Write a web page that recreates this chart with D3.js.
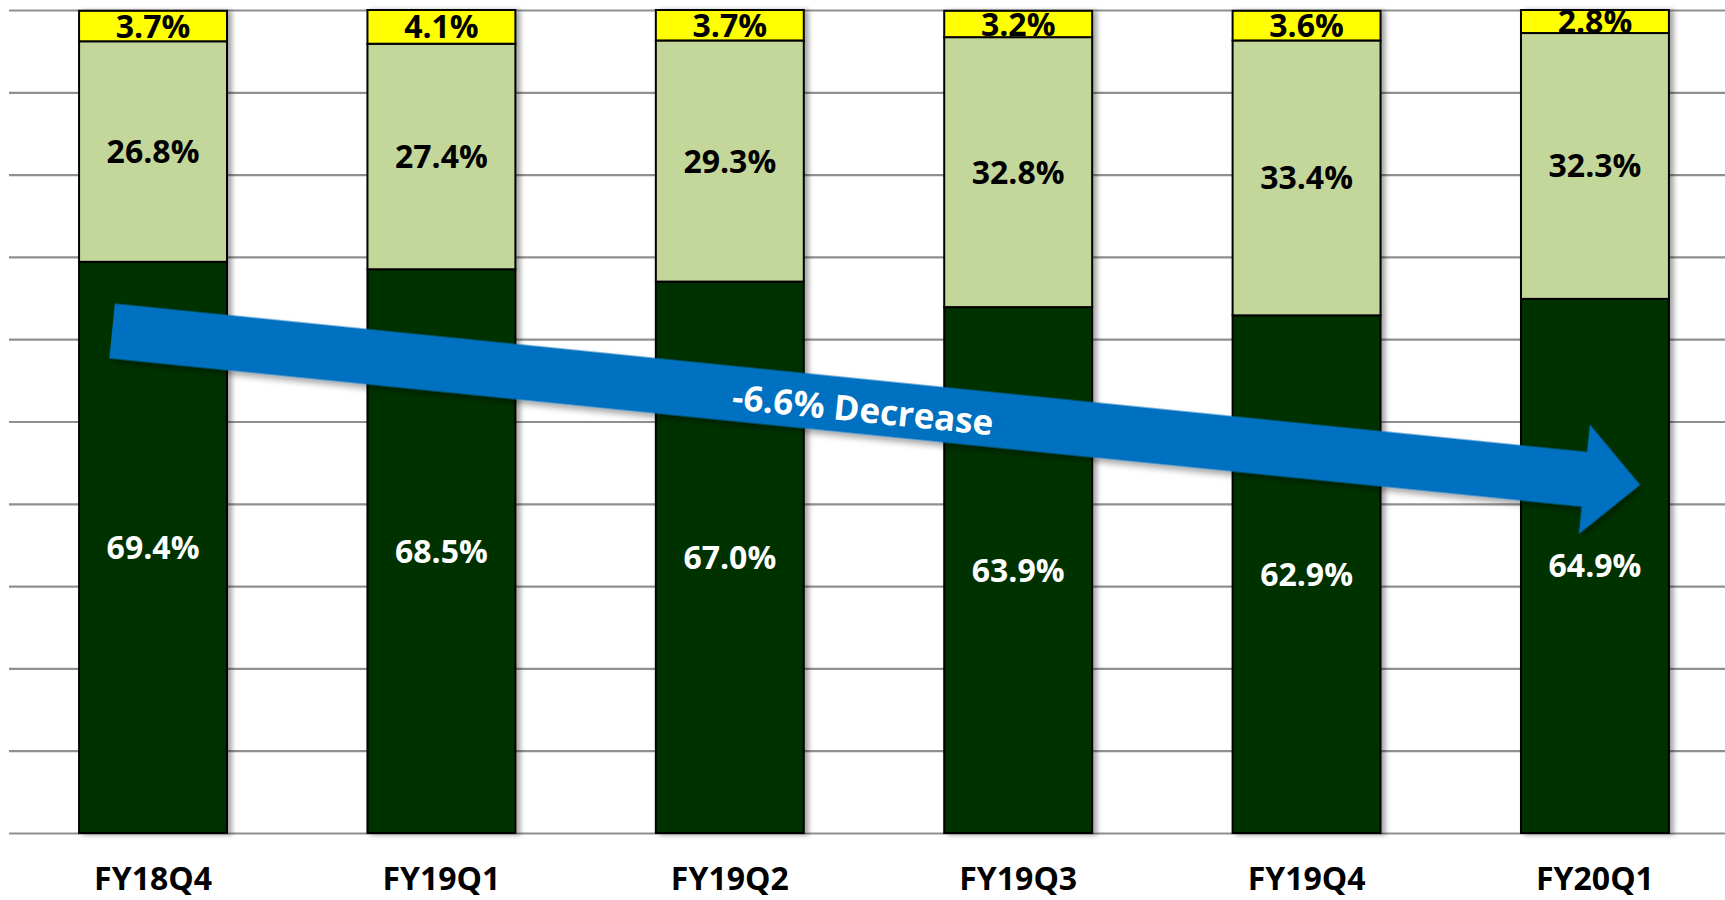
<!DOCTYPE html>
<html>
<head>
<meta charset="utf-8">
<script src="https://cdn.jsdelivr.net/npm/d3@7"></script>
<style>
  html, body { margin: 0; padding: 0; background: #fff; }
  svg { display: block; }
  text { font-family: "Open Sans", "Noto Sans", sans-serif; }
</style>
</head>
<body>
<div id="chart"></div>
<script>
// Data
var quarters = ["FY18Q4", "FY19Q1", "FY19Q2", "FY19Q3", "FY19Q4", "FY20Q1"];
var darkShare = [69.4, 68.5, 67.0, 63.9, 62.9, 64.9];
var lightShare = [26.8, 27.4, 29.3, 32.8, 33.4, 32.3];
var yellowShare = [3.7, 4.1, 3.7, 3.2, 3.6, 2.8];
var gridTicks = [0, 10, 20, 30, 40, 50, 60, 70, 80, 90, 100];
var arrowLabel = "-6.6% Decrease";

var series = [
  { key: "dark", values: darkShare, fill: "#003300", text: "#ffffff" },
  { key: "light", values: lightShare, fill: "#c4d79b", text: "#000000" },
  { key: "yellow", values: yellowShare, fill: "#ffff00", text: "#000000" }
];

// Setup dimensions
var svgWidth = 1725;
var svgHeight = 900;
var plotLeft = 9;
var plotTop = 10;
var plotBottom = 833;

var svg = d3.select("#chart")
  .append("svg")
  .attr("width", svgWidth)
  .attr("height", svgHeight);

// Shadows
var defs = svg.append("defs");
defs.append("filter")
  .attr("id", "barShadow")
  .attr("x", "-10%").attr("y", "-5%")
  .attr("width", "130%").attr("height", "110%")
  .append("feDropShadow")
  .attr("dx", 4).attr("dy", 1)
  .attr("stdDeviation", 2.5)
  .attr("flood-color", "#000")
  .attr("flood-opacity", 0.35);

defs.append("filter")
  .attr("id", "arrowShadow")
  .attr("x", "-5%").attr("y", "-30%")
  .attr("width", "110%").attr("height", "160%")
  .append("feDropShadow")
  .attr("dx", 3).attr("dy", 4)
  .attr("stdDeviation", 3)
  .attr("flood-color", "#000")
  .attr("flood-opacity", 0.35);

defs.append("clipPath")
  .attr("id", "plotClip")
  .append("rect")
  .attr("x", 0).attr("y", plotTop + 0.5)
  .attr("width", svgWidth).attr("height", plotBottom - plotTop);

// Scales
var xScale = d3.scaleBand()
  .domain(quarters)
  .range([plotLeft, 1739])
  .paddingInner(0.487)
  .paddingOuter(0.243);

var yScale = d3.scaleLinear()
  .domain([0, 100])
  .range([plotBottom, plotTop]);

// Gridlines
var grid = svg.append("g")
  .attr("transform", `translate(${plotLeft}, 0)`)
  .call(d3.axisLeft(yScale).tickValues(gridTicks).tickSize(-(svgWidth - plotLeft)).tickFormat(""));
grid.select(".domain").remove();
grid.selectAll(".tick line")
  .attr("stroke", "#8f8f8f")
  .attr("stroke-width", 2.2);

// Stack the segments
var stacked = quarters.map(function(q, i) {
  var base = 0;
  return series.map(function(s) {
    var seg = { quarter: q, series: s, value: s.values[i], y0: base, y1: base + s.values[i] };
    base += s.values[i];
    return seg;
  });
});

// Bars
var barGroups = svg.selectAll("g.bar")
  .data(stacked)
  .enter()
  .append("g")
  .classed("bar", true)
  .attr("filter", "url(#barShadow)");

barGroups.selectAll("rect")
  .data(d => d)
  .enter()
  .append("rect")
  .attr("x", d => xScale(d.quarter))
  .attr("y", d => yScale(d.y1))
  .attr("width", xScale.bandwidth())
  .attr("height", d => yScale(d.y0) - yScale(d.y1))
  .attr("fill", d => d.series.fill)
  .attr("stroke", "#000")
  .attr("stroke-width", 2);

// Segment labels
var labels = svg.append("g").attr("clip-path", "url(#plotClip)");
labels.selectAll("text")
  .data(stacked.flat())
  .enter()
  .append("text")
  .attr("x", d => xScale(d.quarter) + xScale.bandwidth() / 2)
  .attr("y", d => yScale((d.y0 + d.y1) / 2))
  .attr("dy", "0.36em")
  .attr("text-anchor", "middle")
  .attr("font-size", "32px")
  .attr("font-weight", 700)
  .attr("fill", d => d.series.text)
  .text(d => d.value.toFixed(1) + "%");

// Category axis
var xAxis = svg.append("g")
  .attr("transform", `translate(0, ${plotBottom})`)
  .call(d3.axisBottom(xScale).tickSize(0));
xAxis.select(".domain").remove();
xAxis.selectAll("text")
  .attr("y", 57)
  .attr("dy", null)
  .attr("font-size", "32px")
  .attr("font-weight", 700)
  .attr("font-family", "'Open Sans', sans-serif")
  .attr("fill", "#000");

// Trend arrow
var tail = [xScale(quarters[0]) + 33, yScale(61)];
var tip = [xScale(quarters[5]) + xScale.bandwidth() * 0.805, yScale(42.3)];
var len = Math.hypot(tip[0] - tail[0], tip[1] - tail[1]);
var angle = Math.atan2(tip[1] - tail[1], tip[0] - tail[0]) * 180 / Math.PI;
var shaftHalf = 27.5;
var headHalf = 55;
var headLen = 56;

var arrow = svg.append("g")
  .attr("transform", `translate(${tail[0]}, ${tail[1]}) rotate(${angle})`);

arrow.append("path")
  .attr("d", d3.line()([
    [0, -shaftHalf],
    [len - headLen, -shaftHalf],
    [len - headLen, -headHalf],
    [len, 0],
    [len - headLen, headHalf],
    [len - headLen, shaftHalf],
    [0, shaftHalf]
  ]) + "Z")
  .attr("fill", "#0070c0")
  .attr("filter", "url(#arrowShadow)");

arrow.append("text")
  .attr("x", 755)
  .attr("y", 3)
  .attr("dy", "0.36em")
  .attr("text-anchor", "middle")
  .attr("font-size", "35px")
  .attr("font-weight", 700)
  .attr("fill", "#fff")
  .text(arrowLabel);
</script>
</body>
</html>
